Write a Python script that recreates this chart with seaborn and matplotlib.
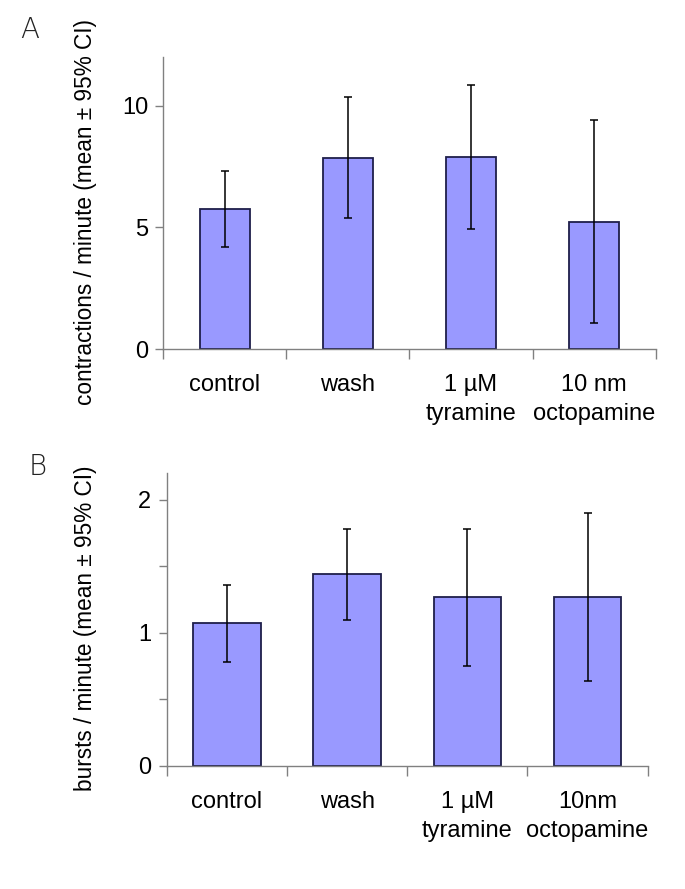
import numpy as np
import matplotlib
matplotlib.use('Agg')
import matplotlib.pyplot as plt
import seaborn as sns

# values
cats_a = ['control', 'wash', '1 µM\ntyramine', '10 nm\noctopamine']
cats_b = ['control', 'wash', '1 µM\ntyramine', '10nm\noctopamine']

contr_mean = np.array([5.77, 7.83, 7.89, 5.23])
contr_hi = np.array([7.30, 10.36, 10.84, 9.41])
contr_lo = np.array([4.19, 5.38, 4.93, 1.08])

burst_mean = np.array([1.073, 1.441, 1.271, 1.271])
burst_hi = np.array([1.359, 1.782, 1.782, 1.902])
burst_lo = np.array([0.784, 1.098, 0.750, 0.639])

sns.set_style('white')
plt.rcParams['font.family'] = ['Liberation Sans', 'DejaVu Sans']
plt.rcParams['text.color'] = 'black'
plt.rcParams['axes.labelcolor'] = 'black'
plt.rcParams['xtick.labelcolor'] = 'black'
plt.rcParams['ytick.labelcolor'] = 'black'

BAR = '#9999FF'
EDGE = '#1F1F4A'
AXC = '#808080'

fig = plt.figure(figsize=(6.85, 8.89), dpi=100)
ax_a = fig.add_axes([0.2384, 0.6074, 0.7188, 0.3285])
ax_b = fig.add_axes([0.2434, 0.1384, 0.7022, 0.3292])


def draw_panel(ax, cats, mean, lo, hi, width, ylim, major, minor, ylabel, label_x):
    sns.barplot(x=cats, y=mean, ax=ax, color=BAR, saturation=1, width=width,
                edgecolor=EDGE, linewidth=1.3, errorbar=None)
    ax.errorbar(np.arange(len(cats)), mean, yerr=[mean - lo, hi - mean], fmt='none',
                ecolor='black', elinewidth=1.1, capsize=3, capthick=1.1, zorder=5)
    ax.set_xlim(-0.5, len(cats) - 0.5)
    ax.set_ylim(*ylim)

    # category boundary ticks, labels at the centres
    ax.set_xticks(np.arange(len(cats) + 1) - 0.5)
    ax.set_xticklabels([])
    ax.set_xticks(np.arange(len(cats)), minor=True)
    ax.set_xticklabels(cats, minor=True, fontsize=17, linespacing=1.4)
    ax.tick_params(axis='x', which='major', direction='out', length=7, width=1, color=AXC, bottom=True)
    ax.tick_params(axis='x', which='minor', length=0, pad=18)

    ax.set_yticks(major)
    ax.set_yticklabels([str(v) for v in major], fontsize=17)
    ax.set_yticks(minor, minor=True)
    ax.tick_params(axis='y', which='both', direction='out', length=6, width=1, color=AXC, left=True, pad=5)

    for s in ['top', 'right']:
        ax.spines[s].set_visible(False)
    for s in ['left', 'bottom']:
        ax.spines[s].set_color(AXC)
        ax.spines[s].set_linewidth(1)

    ax.set_ylabel(ylabel, fontsize=16.3)
    ax.yaxis.set_label_coords(label_x, 0.47)
    ax.set_xlabel('')


draw_panel(ax_a, cats_a, contr_mean, contr_lo, contr_hi, 0.41, (0, 12),
           [0, 5, 10], [], 'contractions / minute (mean ± 95% CI)', -0.135)
draw_panel(ax_b, cats_b, burst_mean, burst_lo, burst_hi, 0.56, (0, 2.2),
           [0, 1, 2], [0.5, 1.5], 'bursts / minute (mean ± 95% CI)', -0.145)

fig.text(20 / 685, 1 - 30 / 889, 'A', fontsize=20, va='center', ha='left',
         family='DejaVu Sans', fontweight='light', color='#222222')
fig.text(29 / 685, 1 - 467 / 889, 'B', fontsize=20, va='center', ha='left',
         family='DejaVu Sans', fontweight='light', color='#222222')

fig.savefig('out.png', dpi=100)
